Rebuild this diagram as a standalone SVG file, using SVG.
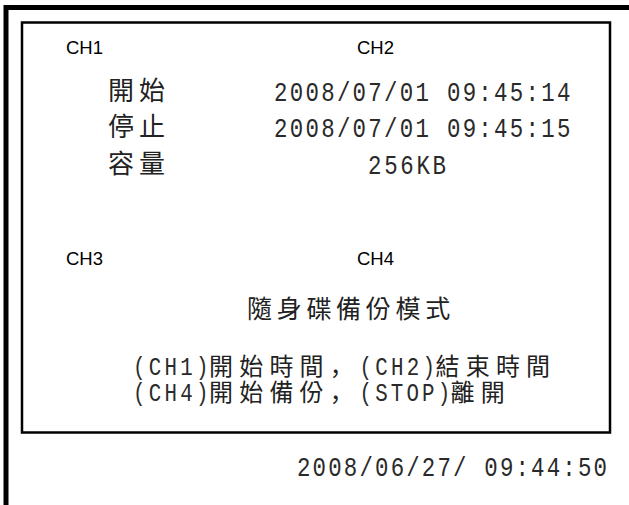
<svg xmlns="http://www.w3.org/2000/svg" width="629" height="505" viewBox="0 0 629 505">
<style>
.frame{fill:none;stroke:#000}
.ch{font-family:"Liberation Sans",Arial,sans-serif;font-size:18.5px;fill:#000}
.lbl{font-family:"Noto Sans CJK TC",sans-serif;font-size:26px;fill:#222;letter-spacing:5px}
.cjk{font-family:"Noto Sans CJK TC",sans-serif;font-size:24px;fill:#222;letter-spacing:6.2px}
.cm{font-family:"Noto Sans CJK JP",sans-serif}
.dig{font-family:"Liberation Mono",monospace;font-size:28px;fill:#2a2a2a}
.dm{font-size:26px}
</style>
<rect width="629" height="505" fill="#fff"/>
<g id="frame">
<path class="frame" d="M6 505 V7.5 H629" stroke-width="5"/>
<rect class="frame" x="22" y="22.5" width="588" height="410" stroke-width="2.5"/>
</g>
<g id="channels">
<text class="ch" x="66" y="54">CH1</text>
<text class="ch" x="357" y="54">CH2</text>
<text class="ch" x="66" y="265">CH3</text>
<text class="ch" x="357" y="265">CH4</text>
</g>
<g id="info">
<text class="lbl" x="108" y="100">開始</text>
<text class="lbl" x="108" y="136">停止</text>
<text class="lbl" x="108" y="173">容量</text>
<text class="dig" transform="translate(274,101) scale(0.8,1)" textLength="370.5" lengthAdjust="spacing">2008/07/01 09:45:14</text>
<text class="dig" transform="translate(274,137) scale(0.8,1)" textLength="370.5" lengthAdjust="spacing">2008/07/01 09:45:15</text>
<text class="dig" transform="translate(368,174) scale(0.8,1)" textLength="97.5" lengthAdjust="spacing">256KB</text>
</g>
<g id="mode">
<text class="lbl" x="247" y="318" style="font-size:25px;letter-spacing:4.7px">隨身碟備份模式</text>
<text class="dig dm" transform="translate(133,375) scale(0.8,1)" textLength="94.4" lengthAdjust="spacing">(CH1)</text>
<text class="cjk" x="209" y="375">開始時間<tspan class="cm">，</tspan></text>
<text class="dig dm" transform="translate(359.5,375) scale(0.8,1)" textLength="94.4" lengthAdjust="spacing">(CH2)</text>
<text class="cjk" x="435.5" y="375">結束時間</text>
<text class="dig dm" transform="translate(133,401) scale(0.8,1)" textLength="94.4" lengthAdjust="spacing">(CH4)</text>
<text class="cjk" x="209" y="401">開始備份<tspan class="cm">，</tspan></text>
<text class="dig dm" transform="translate(359.5,401) scale(0.8,1)" textLength="113.3" lengthAdjust="spacing">(STOP)</text>
<text class="cjk" x="450.6" y="401">離開</text>
</g>
<g id="clock">
<text class="dig" transform="translate(297,476) scale(0.8,1)" textLength="387.5" lengthAdjust="spacing">2008/06/27/ 09:44:50</text>
</g>
</svg>
